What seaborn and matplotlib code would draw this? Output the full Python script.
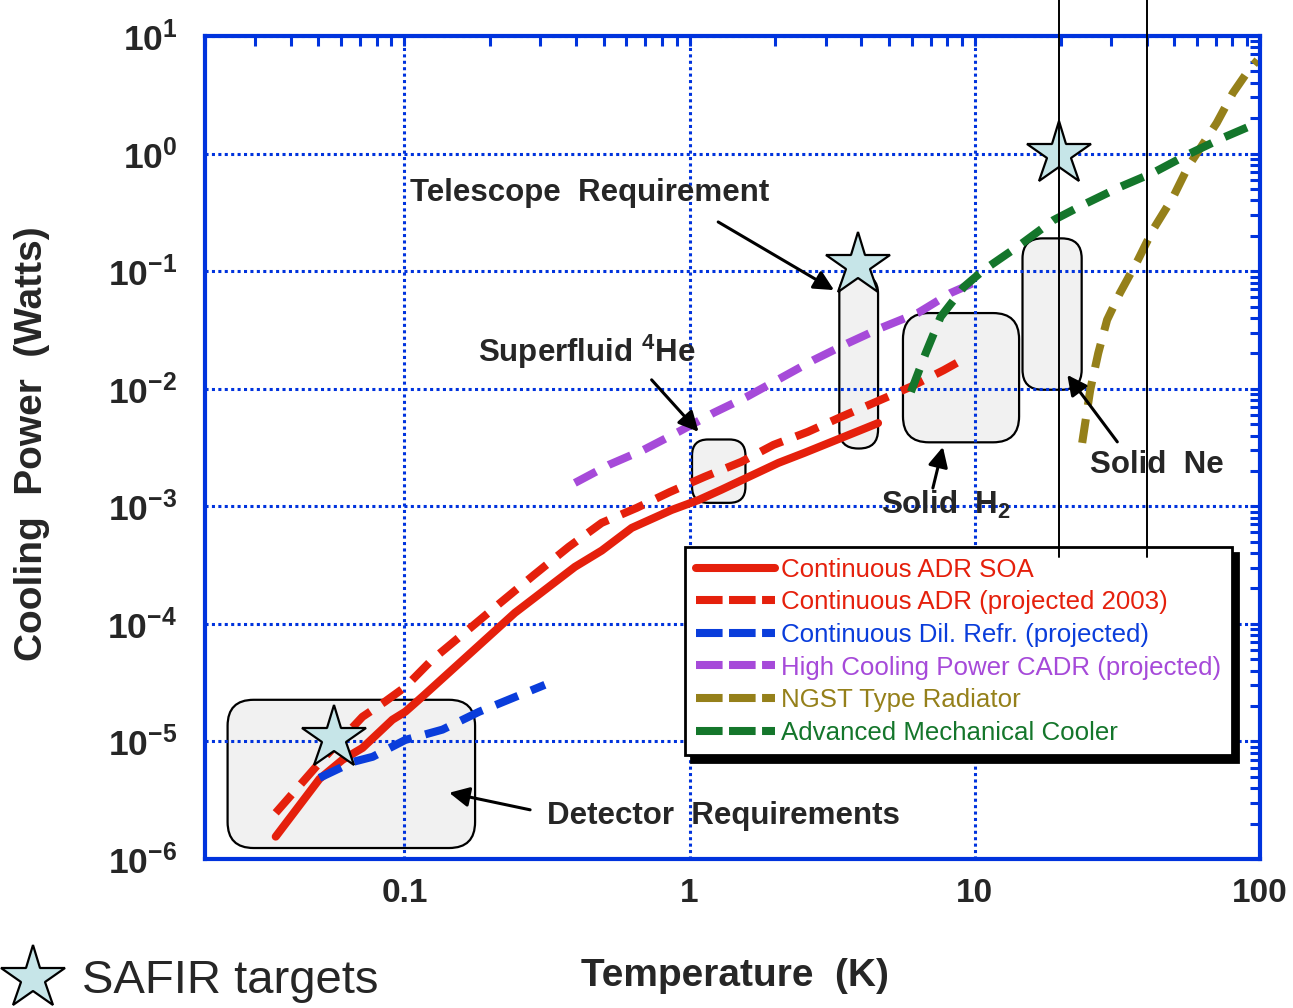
import numpy as np
import pandas as pd
import matplotlib
matplotlib.use("Agg")
import matplotlib.pyplot as plt
import seaborn as sns
from matplotlib.patches import FancyBboxPatch
from matplotlib.transforms import IdentityTransform
from matplotlib.lines import Line2D
from matplotlib.ticker import LogLocator, NullFormatter, FixedLocator, FixedFormatter

# ---------------- data ----------------
adr_soa_T = [0.0354, 0.0504, 0.0607, 0.0713, 0.0908, 0.1008, 0.1156, 0.244, 0.396,
             0.492, 0.627, 0.865, 1.075, 1.29, 2.05, 2.52, 4.58]
adr_soa_P = [1.55e-6, 4.8e-6, 6.98e-6, 8.8e-6, 1.53e-5, 1.79e-5, 2.4e-5, 1.24e-4, 3.05e-4,
             4.2e-4, 6.55e-4, 9.3e-4, 1.13e-3, 1.38e-3, 2.34e-3, 2.84e-3, 5.1e-3]

adr_proj_T = [0.0354, 0.0504, 0.0713, 0.0853, 0.1008, 0.125, 0.164, 0.217, 0.285, 0.377, 0.492,
              0.653, 0.851, 1.128, 1.52, 1.97, 2.60, 3.40, 4.50, 5.97, 7.79, 9.30]
adr_proj_P = [2.47e-6, 6.58e-6, 1.62e-5, 2.17e-5, 2.91e-5, 4.94e-5, 8.55e-5, 1.51e-4, 2.61e-4,
              4.52e-4, 7.23e-4, 9.7e-4, 1.32e-3, 1.78e-3, 2.39e-3, 3.33e-3, 4.3e-3, 5.76e-3,
              7.72e-3, 1.04e-2, 1.44e-2, 1.83e-2]

dil_T = [0.0504, 0.0661, 0.0774, 0.1008, 0.136, 0.183, 0.311]
dil_P = [4.9e-6, 6.7e-6, 7.4e-6, 1.03e-5, 1.26e-5, 1.79e-5, 3.03e-5]

cadr_T = [0.396, 0.521, 0.690, 0.915, 1.213, 1.582, 2.10, 2.73, 3.60, 4.69, 6.32, 8.24, 9.9]
cadr_P = [1.58e-3, 2.25e-3, 3.02e-3, 4.3e-3, 6.23e-3, 8.5e-3, 1.24e-2, 1.76e-2, 2.45e-2,
          3.29e-2, 4.41e-2, 6.53e-2, 7.94e-2]

ngst_T = [23.8, 25.4, 27.1, 29.1, 32.3, 37.3, 42.1, 49.6, 55.9, 70.5, 80.3, 89.8, 98.0]
ngst_P = [3.46e-3, 9.8e-3, 2.01e-2, 3.85e-2, 6.53e-2, 0.124, 0.224, 0.427, 0.769, 1.82, 3.27,
          4.84, 6.25]

mech_T = [5.97, 6.73, 7.59, 9.16, 10.73, 14.1, 18.9, 23.9, 32.3, 42.1, 55.4, 74.0, 98.0]
mech_P = [9.4e-3, 2.01e-2, 4.08e-2, 7.35e-2, 0.102, 0.161, 0.272, 0.365, 0.520, 0.684, 0.973,
          1.36, 1.82]

series_names = ["Continuous ADR SOA", "Continuous ADR (projected 2003)",
                "Continuous Dil. Refr. (projected)", "High Cooling Power CADR (projected)",
                "NGST Type Radiator", "Advanced Mechanical Cooler"]

safir_T = [0.0565, 3.9, 19.7]
safir_P = [1.07e-5, 0.113, 1.0]

# requirement boxes: (T_min, T_max, P_min, P_max)
box_detector = (0.024, 0.177, 1.24e-6, 2.26e-5)
box_helium = (1.02, 1.57, 1.07e-3, 3.7e-3)
box_telescope = (3.35, 4.58, 3.1e-3, 0.093)
box_h2 = (5.6, 14.3, 3.5e-3, 0.044)
box_ne = (14.7, 23.7, 9.8e-3, 0.19)

vline_T = [19.7, 40.0]
vline_P = [3.7e-4, 30.0]

x_ticks = [0.1, 1, 10, 100]
x_tick_labels = ["0.1", "1", "10", "100"]
y_ticks = [1e-6, 1e-5, 1e-4, 1e-3, 1e-2, 1e-1, 1e0, 1e1]
y_tick_labels = ["10$^{-6}$", "10$^{-5}$", "10$^{-4}$", "10$^{-3}$", "10$^{-2}$",
                 "10$^{-1}$", "10$^{0}$", "10$^{1}$"]

# annotation texts: (text, T, P)
label_texts = [
    ("Telescope  Requirement", 0.105, 0.462),
    ("Superfluid $^{4}$He", 0.1815, 0.0206),
    ("Solid  H$_{2}$", 4.69, 1.03e-3),
    ("Solid  Ne", 25.4, 2.25e-3),
    ("Detector  Requirements", 0.316, 2.33e-6),
]
# arrows: (tail T, tail P, head T, head P)
arrow_list = [
    (1.26, 0.262, 3.21, 0.069),
    (0.736, 0.0119, 1.075, 4.3e-3),
    (0.276, 2.62e-6, 0.1436, 3.66e-6),
    (7.13, 1.43e-3, 7.73, 3.2e-3),
    (31.6, 3.53e-3, 21.1, 0.0131),
]

# ---------------- style ----------------
RED = "#e5200c"
BLUE = "#0a3ddb"
PURPLE = "#a64ad9"
OLIVE = "#95801a"
GREEN = "#14762b"
AXBLUE = "#0033dd"
STAR = "#c6e5e8"
BOXFILL = "#f1f1f1"

sns.set_style("white")
plt.rcParams["font.family"] = ["Liberation Sans", "DejaVu Sans"]
plt.rcParams["mathtext.fontset"] = "custom"
plt.rcParams["mathtext.rm"] = "Liberation Sans:bold"
plt.rcParams["mathtext.bf"] = "Liberation Sans:bold"
plt.rcParams["mathtext.it"] = "Liberation Sans:bold:italic"

fig = plt.figure(figsize=(12.93, 10.08), dpi=100)
ax = fig.add_axes([205 / 1293, 149 / 1008, 1055 / 1293, 823 / 1008])
ax.set_xscale("log")
ax.set_yscale("log")
ax.set_xlim(0.02, 100)
ax.set_ylim(1e-6, 10)

frames = []
all_T = [adr_soa_T, adr_proj_T, dil_T, cadr_T, ngst_T, mech_T]
all_P = [adr_soa_P, adr_proj_P, dil_P, cadr_P, ngst_P, mech_P]
for name, T, P in zip(series_names, all_T, all_P):
    frames.append(pd.DataFrame({"T": T, "P": P, "series": name}))
df = pd.concat(frames, ignore_index=True)

colors = [RED, RED, BLUE, PURPLE, OLIVE, GREEN]
palette = dict(zip(series_names, colors))
dash = (3.0, 1.75)
dashes = {n: ("" if i == 0 else dash) for i, n in enumerate(series_names)}

sns.lineplot(data=df, x="T", y="P", hue="series", style="series", palette=palette,
             dashes=dashes, sort=False, estimator=None, legend=False, lw=5.8, ax=ax,
             zorder=2)

# boxes (rounded in pixel space)
fig.canvas.draw()
def add_box(b, r):
    (x0, y0) = ax.transData.transform((b[0], b[2]))
    (x1, y1) = ax.transData.transform((b[1], b[3]))
    r = min(r, (x1 - x0) / 2 - 0.5, (y1 - y0) / 2 - 0.5)
    p = FancyBboxPatch((x0, y0), x1 - x0, y1 - y0,
                       boxstyle=f"round,pad=0,rounding_size={r}",
                       transform=IdentityTransform(), facecolor=BOXFILL,
                       edgecolor="black", lw=1.6, zorder=0.3)
    ax.add_patch(p)

add_box(box_detector, 26)
add_box(box_helium, 16)
add_box(box_telescope, 20)
add_box(box_h2, 26)
add_box(box_ne, 20)

# stars
ax.plot(safir_T, safir_P, ls="none", marker="*", ms=48, mfc=STAR, mec="black",
        mew=1.6, zorder=4)

# vertical lines
for t in vline_T:
    ax.plot([t, t], vline_P, color="black", lw=1.4, clip_on=False, zorder=6)

# texts and arrows
for txt, t, p in label_texts:
    ax.text(t, p, txt, fontsize=22.5, fontweight="bold", ha="left", va="center", zorder=5)
for tt, tp, ht, hp in arrow_list:
    ax.annotate("", xy=(ht, hp), xytext=(tt, tp),
                arrowprops=dict(arrowstyle="-|>", color="black", lw=2.2,
                                mutation_scale=30, shrinkA=0, shrinkB=0), zorder=5)

# axes styling
ax.grid(which="major", color=AXBLUE, linestyle=(0, (1, 1.1)), lw=2.2)
ax.set_axisbelow(True)
for s in ax.spines.values():
    s.set_color(AXBLUE)
    s.set_linewidth(3)
ax.xaxis.set_minor_locator(LogLocator(base=10, subs=np.arange(2, 10), numticks=50))
ax.yaxis.set_minor_locator(LogLocator(base=10, subs=np.arange(2, 10), numticks=50))
ax.xaxis.set_minor_formatter(NullFormatter())
ax.yaxis.set_minor_formatter(NullFormatter())
ax.xaxis.set_major_locator(FixedLocator(x_ticks))
ax.xaxis.set_major_formatter(FixedFormatter(x_tick_labels))
ax.yaxis.set_major_locator(FixedLocator(y_ticks))
ax.yaxis.set_major_formatter(FixedFormatter(y_tick_labels))
ax.tick_params(which="both", direction="in", top=True, right=True, color=AXBLUE,
               width=2.2, length=7)
ax.tick_params(axis="x", which="major", labelsize=24, pad=14)
ax.tick_params(axis="y", which="major", labelsize=25.5, pad=20)
for lab in ax.get_xticklabels() + ax.get_yticklabels():
    lab.set_fontweight("bold")

ax.set_xlabel("Temperature  (K)", fontsize=28, fontweight="bold")
ax.xaxis.set_label_coords(0.502, -0.120)
ax.set_ylabel("Cooling  Power  (Watts)", fontsize=28, fontweight="bold")
ax.yaxis.set_label_coords(-0.147, 0.505)

# legend
handles = []
for i, (n, c) in enumerate(zip(series_names, colors)):
    h = Line2D([], [], color=c, lw=5.8)
    if i > 0:
        h.set_dashes((3.3, 0.8))
    handles.append(h)
leg = ax.legend(handles, series_names, loc="upper left", bbox_to_anchor=(0.455, 0.379),
                borderaxespad=0, frameon=True, fancybox=False,
                shadow={"ox": 4.5, "oy": -4.5, "color": "black", "alpha": 1},
                fontsize=18.6, handlelength=3.05, handletextpad=0.25, labelspacing=0.33,
                borderpad=0.42, labelcolor="linecolor", framealpha=1)
leg.get_frame().set_edgecolor("black")
leg.get_frame().set_linewidth(2)
leg.set_zorder(5)

# SAFIR targets key
fig.add_artist(Line2D([33 / 1293], [1 - 978 / 1008], transform=fig.transFigure,
                      marker="*", ms=48, mfc=STAR, mec="black", mew=1.6, ls="none"))
fig.text(82 / 1293, 1 - 981 / 1008, "SAFIR targets", fontsize=34, ha="left", va="center")

fig.savefig("out.png", dpi=100)
